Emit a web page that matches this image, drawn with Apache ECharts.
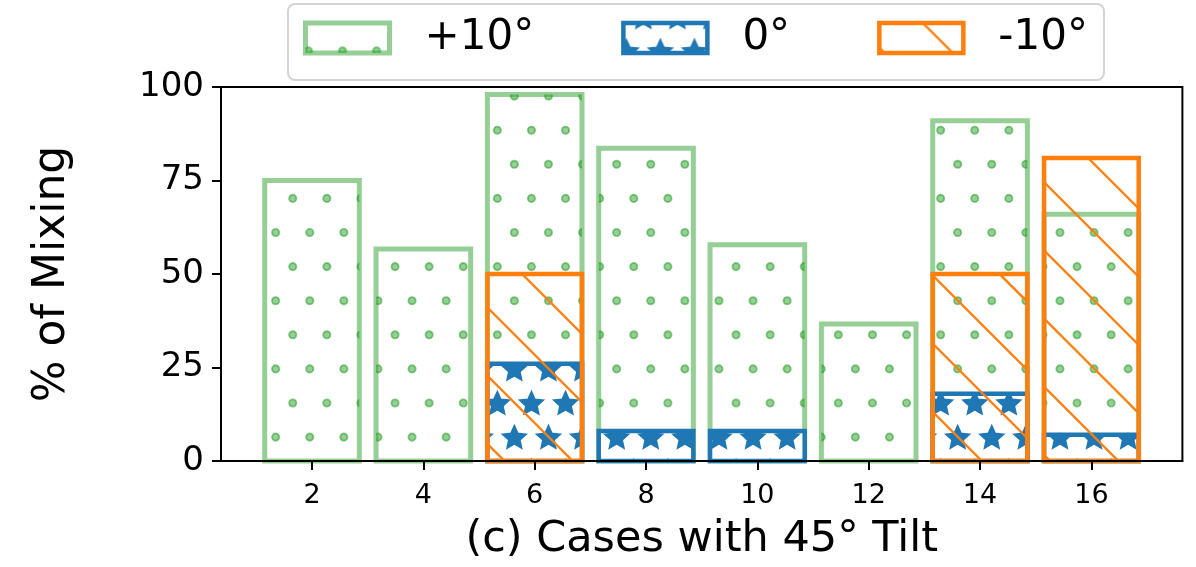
<!DOCTYPE html>
<html><head><meta charset="utf-8">
<script src="https://cdn.jsdelivr.net/npm/echarts@6/dist/echarts.min.js"></script>
<style>html,body{margin:0;padding:0;background:#fff}#c{width:1196px;height:567px}</style>
</head><body><div id="c"></div>
<script>
// ---- data ----
const cases = [2, 4, 6, 8, 10, 12, 14, 16];
const xTickLabels = ['2', '4', '6', '8', '10', '12', '14', '16'];
const seriesNames = ['+10°', '0°', '-10°'];
const plus10 = [75, 56.7, 98, 83.6, 57.8, 36.6, 91, 66];
const zero = [0, 0, 26, 8, 8, 0, 18, 7];
const minus10 = [0, 0, 50, 0, 0, 0, 50, 81];
const xTitle = '(c) Cases with 45° Tilt';
const yTitle = '% of Mixing';

// bar width in data units (like matplotlib width=1.7)
const BAR_W = 1.7;

// ---- hatch patterns (global, like matplotlib hatches) ----
const P = 34.1, T = 341;
function tile(bg, draw) {
  const c = document.createElement('canvas'); c.width = T; c.height = T;
  const g = c.getContext('2d');
  if (bg) { g.fillStyle = bg; g.fillRect(0, 0, T, T); }
  draw(g); return c;
}
function gridPts(fn) {
  for (let j = -1; j <= 10; j++) {
    const y = 27.9 + j * P;
    const x0 = (j % 2 === 0) ? 2.85 : 19.95;
    for (let i = -1; i <= 10; i++) fn(x0 + i * P, y);
  }
}
const dotTile = tile(null, g => {
  g.fillStyle = 'rgba(44,160,44,0.5)'; g.strokeStyle = 'rgba(44,160,44,0.55)'; g.lineWidth = 1.9;
  gridPts((x, y) => { g.beginPath(); g.arc(x, y, 3.6, 0, Math.PI * 2); g.fill(); g.stroke(); });
});
const starTile = tile('#ffffff', g => {
  g.fillStyle = '#1f77b4'; g.strokeStyle = '#1f77b4'; g.lineWidth = 1.6; g.lineJoin = 'miter';
  gridPts((x, y) => {
    const R = 12.4;
    g.beginPath();
    for (let k = 0; k < 10; k++) {
      const r = k % 2 ? R * 0.47 : R;
      const a = -Math.PI / 2 + k * Math.PI / 5;
      const px = x + r * Math.cos(a), py = y + 1 + r * Math.sin(a);
      if (k) g.lineTo(px, py); else g.moveTo(px, py);
    }
    g.closePath(); g.fill(); g.stroke();
  });
});
const lineTile = tile(null, g => {
  g.strokeStyle = '#ff7f0e'; g.lineWidth = 2.3;
  for (let k = -7; k <= 7; k++) {
    const c = 24.7 + k * 68.2;
    g.beginPath(); g.moveTo(-20, -20 + c); g.lineTo(T + 20, T + 20 + c); g.stroke();
  }
});

const styles = [
  { color: { image: dotTile, repeat: 'repeat' }, borderColor: 'rgba(44,160,44,0.5)', borderWidth: 5 },
  { color: { image: starTile, repeat: 'repeat' }, borderColor: '#1f77b4', borderWidth: 4.5 },
  { color: { image: lineTile, repeat: 'repeat' }, borderColor: '#ff7f0e', borderWidth: 4.5 }
];
const values = [plus10, zero, minus10];

function pts(vals) { return cases.map((x, i) => [x, vals[i]]).filter(d => d[1] !== 0); }

function makeRender(i) {
  const st = styles[i];
  return function (params, api) {
    const x = api.value(0), v = api.value(1);
    const p0 = api.coord([x - BAR_W / 2, 0]);
    const p1 = api.coord([x + BAR_W / 2, v]);
    return {
      type: 'rect',
      shape: { x: p0[0], y: p1[1], width: p1[0] - p0[0], height: p0[1] - p1[1] },
      style: { fill: st.color, stroke: st.borderColor, lineWidth: st.borderWidth }
    };
  };
}

const chart = echarts.init(document.getElementById('c'), null, { renderer: 'canvas' });
const FONT = 'DejaVu Sans';
chart.setOption({
  animation: false,
  backgroundColor: '#fff',
  grid: { left: 221, right: 13.6, top: 87, bottom: 106, show: true, borderColor: '#000', borderWidth: 2, backgroundColor: 'transparent' },
  legend: {
    left: 288, top: 4, orient: 'horizontal',
    padding: [13, 16, 21, 15], itemGap: 87, itemWidth: 84, itemHeight: 30,
    backgroundColor: '#fff', borderColor: '#d4d4d4', borderWidth: 2, borderRadius: 7,
    textStyle: { fontSize: 42, color: '#000', fontFamily: FONT, padding: [0, 0, 0, 30] },
    selectedMode: false,
    data: seriesNames.map((n, i) => ({ name: n, icon: 'rect', itemStyle: styles[i] }))
  },
  xAxis: {
    type: 'value', min: 0.365, max: 17.635, z: 5,
    name: xTitle, nameLocation: 'middle', nameGap: 57,
    nameTextStyle: { fontSize: 43, color: '#000', fontFamily: FONT },
    axisLine: { show: true, onZero: false, lineStyle: { color: '#000', width: 2 } },
    axisTick: { show: true, length: 9, lineStyle: { color: '#000', width: 2 }, customValues: cases },
    axisLabel: { fontSize: 27, color: '#000', fontFamily: FONT, margin: 21, customValues: cases,
      formatter: v => xTickLabels[cases.indexOf(v)] },
    splitLine: { show: false }
  },
  yAxis: {
    type: 'value', min: 0, max: 100, interval: 25, z: 5,
    name: yTitle, nameLocation: 'middle', nameGap: 146, nameRotate: 90,
    nameTextStyle: { fontSize: 44, color: '#000', fontFamily: FONT },
    axisLine: { show: true, lineStyle: { color: '#000', width: 2 } },
    axisTick: { show: true, length: 9, lineStyle: { color: '#000', width: 2 } },
    axisLabel: { fontSize: 34, color: '#000', fontFamily: FONT, margin: 17 },
    splitLine: { show: false }
  },
  series: seriesNames.map((n, i) => ({
    name: n, type: 'custom', silent: true, clip: false,
    encode: { x: 0, y: 1 },
    itemStyle: styles[i],
    renderItem: makeRender(i),
    data: pts(values[i])
  }))
});
</script></body></html>
